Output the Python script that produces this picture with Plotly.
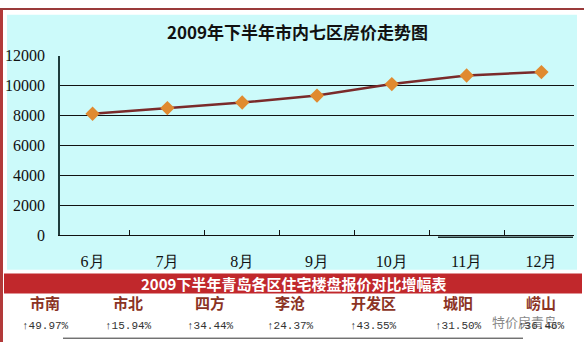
import plotly.graph_objects as go

# ---- data ----
months = ["6月", "7月", "8月", "9月", "10月", "11月", "12月"]
prices = [8120, 8500, 8870, 9330, 10100, 10670, 10900]
y_ticks = [0, 2000, 4000, 6000, 8000, 10000, 12000]
y_tick_labels = ["0", "2000", "4000", "6000", "8000", "10000", "12000"]
districts = ["市南", "市北", "四方", "李沧", "开发区", "城阳", "崂山"]
growth_pct = [49.97, 15.94, 34.44, 24.37, 43.55, 31.50, 36.46]
title_main = "2009年下半年市内七区房价走势图"
title_table = "2009下半年青岛各区住宅楼盘报价对比增幅表"
watermark = "特价房青岛"

W, H = 584, 351

def px(x):
    return x / W

def py(y):
    return 1 - y / H

fig = go.Figure()
fig.add_trace(go.Scatter(
    x=months, y=prices, mode="lines+markers",
    line=dict(color="#7A2A2A", width=2.5),
    marker=dict(symbol="diamond", size=11, color="#E08A30",
                line=dict(width=0)),
    hoverinfo="x+y", showlegend=False,
))

shapes = [
    # cyan chart panel
    dict(type="rect", xref="paper", yref="paper", layer="below",
         x0=px(7), x1=px(577), y0=py(275), y1=py(7),
         fillcolor="#CCFAFA", line=dict(width=0)),
    # red outer border: left and top
    dict(type="rect", xref="paper", yref="paper", layer="below",
         x0=0, x1=px(3), y0=0, y1=1, fillcolor="#B23A3A", line=dict(width=0)),
    dict(type="rect", xref="paper", yref="paper", layer="below",
         x0=0, x1=1, y0=py(2), y1=1, fillcolor="#9A3A3A", line=dict(width=0)),
    # red band of table
    dict(type="rect", xref="paper", yref="paper", layer="below",
         x0=px(4), x1=px(582), y0=py(300), y1=py(279),
         fillcolor="#C1282C", line=dict(width=0)),
    # line under table
    dict(type="line", xref="paper", yref="paper",
         x0=px(63), x1=px(523), y0=py(347), y1=py(347),
         line=dict(color="#333333", width=1)),
    # dark stroke below axis on right
    dict(type="line", xref="paper", yref="paper",
         x0=px(438), x1=px(573), y0=py(241), y1=py(241),
         line=dict(color="#1A2A2A", width=1.5)),
]

annotations = [
    dict(text="<b>" + title_main + "</b>", xref="paper", yref="paper",
         x=px(297), y=py(25), showarrow=False, xanchor="center", yanchor="middle",
         font=dict(family="Noto Sans CJK SC", size=17, color="#111111")),
    dict(text="<b>" + title_table + "</b>", xref="paper", yref="paper",
         x=px(293), y=py(290), showarrow=False, xanchor="center", yanchor="middle",
         font=dict(family="Noto Sans CJK SC", size=15, color="#FFFFFF")),
    dict(text=watermark, xref="paper", yref="paper",
         x=px(524), y=py(329), showarrow=False, xanchor="center", yanchor="middle",
         font=dict(family="Noto Sans CJK SC", size=13, color="#8A8A8A")),
]

col_x = [45, 128, 210, 290, 373, 458, 541]
for cx, name, g in zip(col_x, districts, growth_pct):
    annotations.append(dict(
        text="<b>" + name + "</b>", xref="paper", yref="paper",
        x=px(cx), y=py(309), showarrow=False, xanchor="center", yanchor="middle",
        font=dict(family="Noto Sans CJK SC", size=15, color="#8B3324")))
    annotations.append(dict(
        text="↑" + f"{g:.2f}%", xref="paper", yref="paper",
        x=px(cx), y=py(334), showarrow=False, xanchor="center", yanchor="middle",
        font=dict(family="Liberation Mono", size=11, color="#333333")))

fig.update_layout(
    width=W, height=H,
    margin=dict(l=0, r=0, t=0, b=0),
    paper_bgcolor="#FFFFFF",
    plot_bgcolor="rgba(0,0,0,0)",
    shapes=shapes,
    annotations=annotations,
    xaxis=dict(
        domain=[px(60), px(574)],
        type="category", tickson="boundaries",
        ticks="inside", ticklen=5, tickcolor="#111111",
        showline=True, linecolor="#111111", linewidth=1,
        showgrid=False, ticklabelstandoff=11,
        tickfont=dict(family="Liberation Serif", size=16, color="#111111"),
    ),
    yaxis=dict(
        domain=[py(239), py(50)],
        range=[0, 12000], tickvals=y_ticks, ticktext=y_tick_labels,
        showline=True, linecolor="#1E3C3C", linewidth=1.5,
        showgrid=True, gridcolor="#111111", gridwidth=1,
        zeroline=False, ticks="", ticklabelstandoff=10,
        tickfont=dict(family="Liberation Serif", size=16, color="#111111"),
    ),
)

fig.write_html("out.html")
